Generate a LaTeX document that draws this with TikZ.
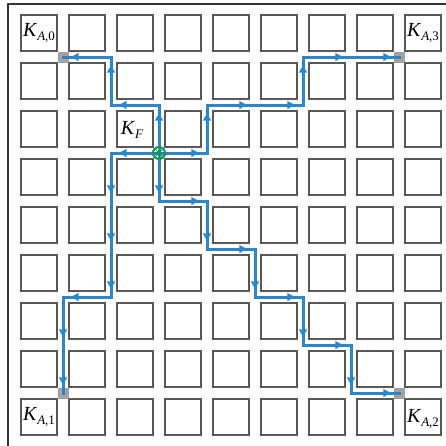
\documentclass[tikz,border=0pt]{standalone}
\usepackage{fontspec}
\setmainfont{Liberation Serif}
\usepackage{xcolor}
\usepackage{tikz}
\usetikzlibrary{arrows.meta,positioning,calc,decorations.markings}
\definecolor{cellGray}{RGB}{90,86,86}
\definecolor{routeBlue}{RGB}{40,135,205}
\definecolor{sinkGray}{RGB}{140,140,140}
\definecolor{centerGreen}{RGB}{20,150,90}
\newcommand{\keysub}[2]{\textit{#1}\raisebox{-0.45ex}{\fontsize{13}{15}\selectfont #2}}

\begin{document}
\begin{tikzpicture}[
    x=1pt, y=-1pt,
    every node/.style={font=\fontsize{20}{22}\selectfont},
    cell/.style={rectangle, draw=cellGray, line width=2.3pt, minimum size=36pt,
        inner sep=0pt, outer sep=0pt},
    sink/.style={rectangle, fill=sinkGray, fill opacity=0.8, minimum size=11pt,
        inner sep=0pt},
    route/.style={draw=routeBlue, line width=3pt, line cap=rect,
        postaction={decorate},
        decoration={markings, mark=at position 0.86 with
            {\arrow[routeBlue]{Latex[length=9pt,width=9pt]}}}},
    fnode/.style={circle, draw=centerGreen, line width=2pt, minimum size=12pt,
        inner sep=0pt},
    lbl/.style={inner sep=0pt},
    ]
    \useasboundingbox (0,0) rectangle (446,445);
    \clip (0,0) rectangle (446,445);
    % Frame
    \draw[line width=1.6pt, black!80] (8,4) rectangle (470,470);
    % Cells
    \foreach \c in {0,...,8}
      \foreach \r in {0,...,8}
        \node[cell] (c-\c-\r) at (39+48*\c, 33+48*\r) {};
    % Channel junctions
    \foreach \c in {0,...,7}
      \foreach \r in {0,...,7}
        \coordinate (j-\c-\r) at (63+48*\c, 57+48*\r);
    % Corner keys
    \node[sink] (s0) at (j-0-0) {};
    \node[sink] (s1) at (j-0-7) {};
    \node[sink] (s2) at (j-7-7) {};
    \node[sink] (s3) at (j-7-0) {};
    % Routes
    \foreach \a/\b in {2-2/2-1, 2-1/1-1, 1-1/1-0, 1-0/0-0}
      \draw[route] (j-\a) -- (j-\b);
    \foreach \a/\b in {2-2/3-2, 3-2/3-1, 3-1/4-1, 4-1/5-1, 5-1/5-0, 5-0/6-0, 6-0/7-0}
      \draw[route] (j-\a) -- (j-\b);
    \foreach \a/\b in {2-2/1-2, 1-2/1-3, 1-3/1-4, 1-4/1-5, 1-5/0-5, 0-5/0-6, 0-6/0-7}
      \draw[route] (j-\a) -- (j-\b);
    \foreach \a/\b in {2-2/2-3, 2-3/3-3, 3-3/3-4, 3-4/4-4, 4-4/4-5, 4-5/5-5,
                       5-5/5-6, 5-6/6-6, 6-6/6-7, 6-7/7-7}
      \draw[route] (j-\a) -- (j-\b);
    % Centre key
    \node[fnode] (kf) at (j-2-2) {};
    \draw[centerGreen, line width=1pt] (kf.north) -- (kf.south) (kf.east) -- (kf.west)
      (kf.north east) -- (kf.south west) (kf.north west) -- (kf.south east);
    % Labels
    \node[lbl] (ka0) at (c-0-0) {\keysub{K}{\textit{A},0}};
    \node[lbl] (ka3) at (c-8-0) {\keysub{K}{\textit{A},3}};
    \node[lbl] (ka1) at (c-0-8) {\keysub{K}{\textit{A},1}};
    \node[lbl] (ka2) at ([yshift=-2pt]c-8-8.center) {\keysub{K}{\textit{A},2}};
    \node[lbl] (kF) at ([xshift=-3pt,yshift=-1pt]c-2-2.center) {\keysub{K}{\textit{F}}};
  \end{tikzpicture}
\end{document}
